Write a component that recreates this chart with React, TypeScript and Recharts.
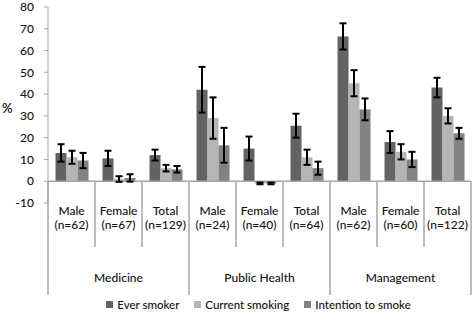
import { BarChart, Bar, XAxis, YAxis, ErrorBar, ReferenceLine, Legend } from 'recharts';

const subgroups = ['Male', 'Female', 'Total', 'Male', 'Female', 'Total', 'Male', 'Female', 'Total'];
const sampleSizes = ['(n=62)', '(n=67)', '(n=129)', '(n=24)', '(n=40)', '(n=64)', '(n=62)', '(n=60)', '(n=122)'];
const faculties = ['Medicine', 'Public Health', 'Management'];

const everSmoker = [13, 10.5, 12, 42, 15, 25.5, 66.5, 18, 43];
const everSmokerErr = [4, 3.5, 2.5, 10.5, 5.5, 5.5, 6, 5, 4.5];
const currentSmoking = [11, 1, 6, 29, -1, 11, 45, 13.5, 30];
const currentSmokingErr = [3, 1.3, 1.5, 9.5, 0.4, 3.5, 6, 3.5, 3.5];
const intentionToSmoke = [9.5, 1.5, 5.5, 16.5, -1, 6, 33, 10, 22];
const intentionToSmokeErr = [3.5, 1.7, 1.5, 8, 0.4, 3, 5, 3.5, 2.5];

const yTicks = [-10, 0, 10, 20, 30, 40, 50, 60, 70, 80];

const series = [
  { key: 'ever', err: 'everErr', name: 'Ever smoker', color: '#636363' },
  { key: 'current', err: 'currentErr', name: 'Current smoking', color: '#b5b5b5' },
  { key: 'intention', err: 'intentionErr', name: 'Intention to smoke', color: '#828282' },
];

const data = subgroups.map((s, i) => ({
  id: i,
  label: s,
  ever: everSmoker[i],
  everErr: everSmokerErr[i],
  current: currentSmoking[i],
  currentErr: currentSmokingErr[i],
  intention: intentionToSmoke[i],
  intentionErr: intentionToSmokeErr[i],
}));

const W = 473;
const H = 313;
const MARGIN = { top: 7, right: 2, left: 0, bottom: 0 };
const Y_AXIS_W = 48;
const LEGEND_H = 18;
const X_AXIS_H = 92;
const PLOT_W = W - Y_AXIS_W - MARGIN.left - MARGIN.right;
const PLOT_H = H - MARGIN.top - LEGEND_H - X_AXIS_H;
const BAND = PLOT_W / subgroups.length;
const ZERO_UP = (PLOT_H * (0 - yTicks[0])) / (yTicks[yTicks.length - 1] - yTicks[0]);

const FONT = 'Lato, "Liberation Sans", Arial, sans-serif';
const FS = 12;
const WEIGHT = 500;
const TEXT = '#111';
const GRID = '#a6a6a6';

function CategoryTick(props: any) {
  const { x, y, index } = props;
  const left = x - BAND / 2;
  const zeroY = y - ZERO_UP;
  const groupStart = index % 3 === 0;
  return (
    <g>
      <line x1={left} x2={left} y1={zeroY} y2={groupStart ? y + 92 : y + 44} stroke={GRID} strokeWidth={1.5} />
      {index === subgroups.length - 1 && (
        <line x1={x + BAND / 2} x2={x + BAND / 2} y1={zeroY} y2={y + 92} stroke={GRID} strokeWidth={1.5} />
      )}
      <text textAnchor="middle" fontSize={FS} fontWeight={WEIGHT} fontFamily={FONT} fill={TEXT}>
        <tspan x={x} y={y + 12}>{subgroups[index]}</tspan>
        <tspan x={x} y={y + 26}>{sampleSizes[index]}</tspan>
      </text>
      {index % 3 === 1 && (
        <text x={x} y={y + 79} textAnchor="middle" fontSize={FS} fontWeight={WEIGHT} fontFamily={FONT} fill={TEXT}>
          {faculties[Math.floor(index / 3)]}
        </text>
      )}
    </g>
  );
}

function LegendContent() {
  return (
    <div
      style={{
        height: LEGEND_H,
        display: 'flex',
        alignItems: 'center',
        justifyContent: 'center',
        paddingLeft: Y_AXIS_W,
        paddingRight: MARGIN.right,
        fontFamily: FONT,
        fontSize: 11.5,
        fontWeight: WEIGHT,
        color: TEXT,
        gap: 15,
      }}
    >
      {series.map((s) => (
        <div key={s.key} style={{ display: 'flex', alignItems: 'center' }}>
          <span style={{ width: 7, height: 7, background: s.color, marginRight: 4, display: 'inline-block' }} />
          <span>{s.name}</span>
        </div>
      ))}
    </div>
  );
}

export default function App() {
  return (
    <div style={{ position: 'absolute', left: 0, top: 0, background: '#fff' }}>
      <BarChart
        width={W}
        height={H}
        data={data}
        margin={MARGIN}
        barCategoryGap="16%"
        barGap={0}
      >
        <YAxis
          domain={[yTicks[0], yTicks[yTicks.length - 1]]}
          ticks={yTicks}
          interval={0}
          width={Y_AXIS_W}
          stroke={GRID}
          tickSize={4}
          tickMargin={10}
          tick={{ fontSize: FS, fontWeight: WEIGHT, fontFamily: FONT, fill: TEXT }}
          label={{ value: '%', position: 'insideLeft', offset: 2, fontSize: 13, fontWeight: 600, fontFamily: FONT, fill: TEXT, dy: 3 }}
        />
        <XAxis
          dataKey="id"
          height={X_AXIS_H}
          axisLine={false}
          tickLine={false}
          tickSize={0}
          tickMargin={0}
          interval={0}
          tick={<CategoryTick />}
        />
        <ReferenceLine y={0} stroke={GRID} strokeWidth={1.5} />
        {series.map((s) => (
          <Bar key={s.key} dataKey={s.key} name={s.name} fill={s.color} isAnimationActive={false}>
            <ErrorBar dataKey={s.err} width={3.5} stroke="#000" strokeWidth={2} />
          </Bar>
        ))}
        <Legend verticalAlign="bottom" content={<LegendContent />} />
      </BarChart>
    </div>
  );
}
